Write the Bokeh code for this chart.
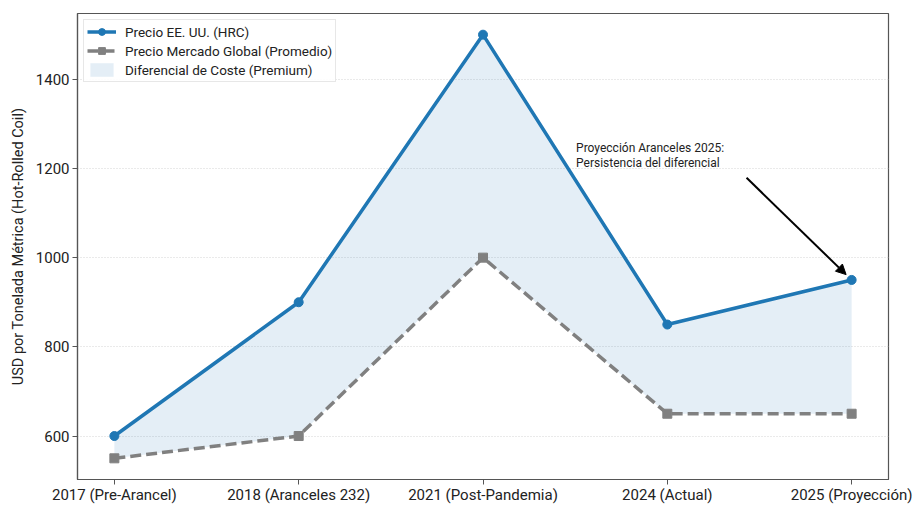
from bokeh.plotting import figure
from bokeh.models import (Range1d, FixedTicker, Legend, LegendItem, Arrow,
                          NormalHead, Label)
from bokeh.embed import file_html
from bokeh.resources import INLINE

# Steel price data (USD per metric ton)
categories = ["2017 (Pre-Arancel)", "2018 (Aranceles 232)", "2021 (Post-Pandemia)",
              "2024 (Actual)", "2025 (Proyección)"]
us_price = [600, 900, 1500, 850, 950]
global_price = [550, 600, 1000, 650, 650]
y_ticks = [600, 800, 1000, 1200, 1400]

FONT = "Roboto"
BLUE = "#1f77b4"
GRAY = "#808080"

x = list(range(len(categories)))

p = figure(width=916, height=506, output_backend="svg", toolbar_location=None,
           x_range=Range1d(-0.2, len(categories) - 0.8),
           y_range=Range1d(502.5, 1547.5),
           min_border_left=77, min_border_right=28,
           min_border_top=13, min_border_bottom=26)

p.background_fill_color = "white"
p.border_fill_color = "white"
p.outline_line_color = "#555555"
p.outline_line_width = 1.2

# Grid: horizontal dotted lines only
p.xgrid.grid_line_color = None
p.ygrid.grid_line_color = "#cccccc"
p.ygrid.grid_line_dash = "1 2"
p.ygrid.grid_line_alpha = 0.8

# Axes
p.xaxis.ticker = FixedTicker(ticks=x)
p.xaxis.major_label_overrides = {i: c for i, c in enumerate(categories)}
p.yaxis.ticker = FixedTicker(ticks=y_ticks)
for ax in (p.xaxis[0], p.yaxis[0]):
    ax.axis_line_color = "#555555"
    ax.axis_line_width = 1.2
    ax.major_tick_line_color = "#555555"
    ax.major_tick_in = 0
    ax.major_tick_out = 5
    ax.minor_tick_line_color = None
    ax.major_label_text_font = FONT
    ax.major_label_text_font_size = "15px"
    ax.major_label_text_color = "#222222"
    ax.major_label_standoff = 3
p.xaxis.major_label_standoff = 1
p.yaxis.axis_label = "USD por Tonelada Métrica (Hot-Rolled Coil)"
p.yaxis.axis_label_text_font = FONT
p.yaxis.axis_label_text_font_style = "normal"
p.yaxis.axis_label_text_font_size = "14.5px"
p.yaxis.axis_label_text_color = "#222222"
p.yaxis.axis_label_standoff = 6

# Premium band between the two series
band = p.varea(x=x, y1=global_price, y2=us_price, fill_color=BLUE, fill_alpha=0.12)

# Global market average
g_line = p.line(x, global_price, line_color=GRAY, line_width=3.5, line_dash="11 5")
g_pts = p.scatter(x, global_price, marker="square", size=9, fill_color=GRAY,
                  line_color=GRAY)

# US price
u_line = p.line(x, us_price, line_color=BLUE, line_width=3.5)
u_pts = p.scatter(x, us_price, marker="circle", size=9, fill_color=BLUE,
                  line_color=BLUE)

legend = Legend(items=[
    LegendItem(label="Precio EE. UU. (HRC)", renderers=[u_line, u_pts]),
    LegendItem(label="Precio Mercado Global (Promedio)", renderers=[g_line, g_pts]),
    LegendItem(label="Diferencial de Coste (Premium)", renderers=[band]),
], location="top_left")
legend.label_text_font = FONT
legend.label_text_font_size = "13.5px"
legend.label_text_color = "#222222"
legend.border_line_color = "#d0d0d0"
legend.border_line_width = 1
legend.background_fill_alpha = 0.9
legend.margin = 6
legend.padding = 3
legend.spacing = 2
legend.label_height = 17
legend.glyph_height = 17
legend.glyph_width = 29
legend.label_standoff = 9
p.add_layout(legend)

# Annotation for the 2025 projection
p.add_layout(Arrow(end=NormalHead(size=10, fill_color="black", line_color="black"),
                   x_start=3.43, y_start=1179, x_end=3.97, y_end=962,
                   line_color="black", line_width=2))
for i, line in enumerate(["Proyección Aranceles 2025:", "Persistencia del diferencial"]):
    p.add_layout(Label(x=2.505, y=1262 - i * 33, text=line, text_font=FONT,
                       text_font_size="12px", text_color="#222222",
                       text_baseline="top", text_align="left"))

open("out.html", "w").write(file_html(p, INLINE))
